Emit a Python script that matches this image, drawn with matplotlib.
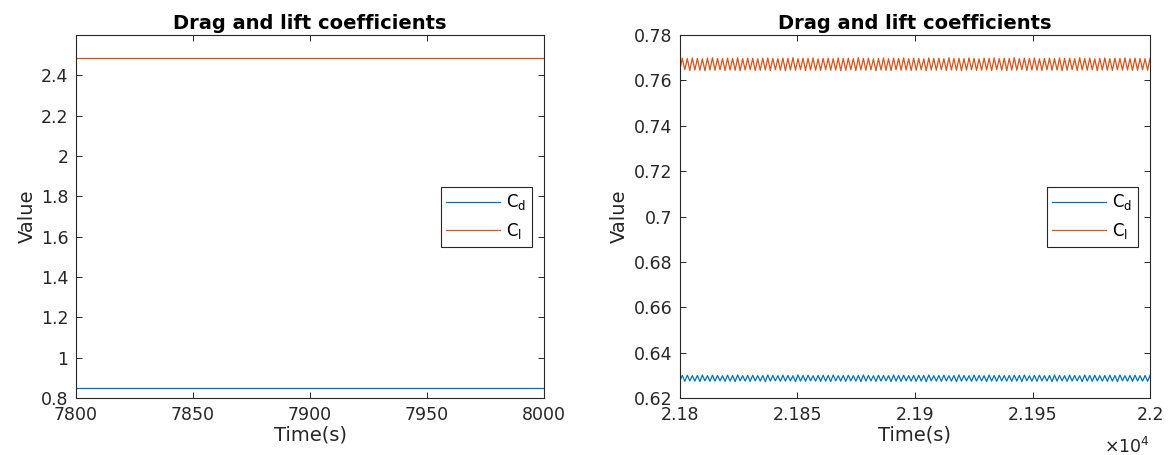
import numpy as np
import matplotlib.pyplot as plt
from matplotlib.ticker import FormatStrFormatter

# early window: both coefficients settled to constant values
t_early = [7800, 8000]
cd_early = [0.851, 0.851]
cl_early = [2.485, 2.485]

# late window: alternating troughs / peaks of the oscillating signals
t_late_start, t_late_end = 21800, 22000
cl_peak = [
    0.7698, 0.7696, 0.7699, 0.7697, 0.7695, 0.7698, 0.7700, 0.7697, 0.7696, 0.7698,
    0.7697, 0.7699, 0.7696, 0.7698, 0.7697, 0.7695, 0.7698, 0.7699, 0.7697, 0.7696,
    0.7698, 0.7697, 0.7700, 0.7696, 0.7698, 0.7697, 0.7699, 0.7695, 0.7697, 0.7698,
    0.7696, 0.7699, 0.7697, 0.7698, 0.7696, 0.7700, 0.7697, 0.7698, 0.7695, 0.7697,
    0.7699, 0.7696, 0.7698, 0.7697, 0.7699, 0.7696, 0.7698, 0.7697, 0.7695, 0.7699,
    0.7697, 0.7698, 0.7696, 0.7700, 0.7697, 0.7698, 0.7696, 0.7699, 0.7697, 0.7695,
    0.7698, 0.7697, 0.7699, 0.7696, 0.7698, 0.7697, 0.7700, 0.7696, 0.7698, 0.7697,
    0.7699, 0.7695, 0.7697, 0.7698, 0.7696, 0.7699, 0.7697, 0.7698, 0.7696, 0.7700,
    0.7697, 0.7698, 0.7695, 0.7697, 0.7699, 0.7696, 0.7698, 0.7697, 0.7699, 0.7696,
    0.7698, 0.7697, 0.7696, 0.7699,
]
cl_trough = [
    0.7645, 0.7647, 0.7644, 0.7646, 0.7645, 0.7643, 0.7646, 0.7645, 0.7647, 0.7644,
    0.7646, 0.7645, 0.7643, 0.7646, 0.7647, 0.7644, 0.7645, 0.7646, 0.7644, 0.7647,
    0.7645, 0.7643, 0.7646, 0.7645, 0.7647, 0.7644, 0.7646, 0.7645, 0.7644, 0.7647,
    0.7645, 0.7646, 0.7643, 0.7645, 0.7647, 0.7644, 0.7646, 0.7645, 0.7647, 0.7643,
    0.7646, 0.7645, 0.7644, 0.7647, 0.7645, 0.7646, 0.7644, 0.7645, 0.7647, 0.7643,
    0.7646, 0.7645, 0.7647, 0.7644, 0.7646, 0.7645, 0.7643, 0.7646, 0.7647, 0.7644,
    0.7645, 0.7646, 0.7644, 0.7647, 0.7645, 0.7643, 0.7646, 0.7645, 0.7647, 0.7644,
    0.7646, 0.7645, 0.7644, 0.7647, 0.7645, 0.7646, 0.7643, 0.7645, 0.7647, 0.7644,
    0.7646, 0.7645, 0.7647, 0.7643, 0.7646, 0.7645, 0.7644, 0.7647, 0.7645, 0.7646,
    0.7644, 0.7645, 0.7647, 0.7645,
]
cd_peak = [
    0.6300, 0.6301, 0.6299, 0.6300, 0.6302, 0.6299, 0.6301, 0.6300, 0.6299, 0.6301,
    0.6300, 0.6302, 0.6299, 0.6300, 0.6301, 0.6299, 0.6300, 0.6302, 0.6300, 0.6299,
    0.6301, 0.6300, 0.6299, 0.6302, 0.6300, 0.6301, 0.6299, 0.6300, 0.6301, 0.6300,
    0.6302, 0.6299, 0.6300, 0.6301, 0.6299, 0.6300, 0.6302, 0.6300, 0.6299, 0.6301,
    0.6300, 0.6299, 0.6302, 0.6300, 0.6301, 0.6299, 0.6300, 0.6301, 0.6300, 0.6302,
    0.6299, 0.6300, 0.6301, 0.6299, 0.6300, 0.6302, 0.6300, 0.6299, 0.6301, 0.6300,
    0.6299, 0.6302, 0.6300, 0.6301, 0.6299, 0.6300, 0.6301, 0.6300, 0.6302, 0.6299,
    0.6300, 0.6301, 0.6299, 0.6300, 0.6302, 0.6300, 0.6299, 0.6301, 0.6300, 0.6299,
    0.6302, 0.6300, 0.6301, 0.6299, 0.6300, 0.6301, 0.6300, 0.6302, 0.6299, 0.6300,
    0.6301, 0.6299, 0.6300, 0.6301,
]
cd_trough = [
    0.6275, 0.6274, 0.6276, 0.6275, 0.6273, 0.6276, 0.6274, 0.6275, 0.6276, 0.6274,
    0.6275, 0.6273, 0.6276, 0.6275, 0.6274, 0.6276, 0.6275, 0.6273, 0.6275, 0.6276,
    0.6274, 0.6275, 0.6276, 0.6273, 0.6275, 0.6274, 0.6276, 0.6275, 0.6274, 0.6275,
    0.6273, 0.6276, 0.6275, 0.6274, 0.6276, 0.6275, 0.6273, 0.6275, 0.6276, 0.6274,
    0.6275, 0.6276, 0.6273, 0.6275, 0.6274, 0.6276, 0.6275, 0.6274, 0.6275, 0.6273,
    0.6276, 0.6275, 0.6274, 0.6276, 0.6275, 0.6273, 0.6275, 0.6276, 0.6274, 0.6275,
    0.6276, 0.6273, 0.6275, 0.6274, 0.6276, 0.6275, 0.6274, 0.6275, 0.6273, 0.6276,
    0.6275, 0.6274, 0.6276, 0.6275, 0.6273, 0.6275, 0.6276, 0.6274, 0.6275, 0.6276,
    0.6273, 0.6275, 0.6274, 0.6276, 0.6275, 0.6274, 0.6275, 0.6273, 0.6276, 0.6275,
    0.6274, 0.6276, 0.6275, 0.6274,
]

x_ticks_late = [21800, 21850, 21900, 21950, 22000]
x_ticklabels_late = ["2.18", "2.185", "2.19", "2.195", "2.2"]

CD_COLOR = "#0072BD"
CL_COLOR = "#D95319"
AX_COLOR = "#262626"


def interleave(lo, hi):
    out = np.empty(len(lo) + len(hi))
    out[0::2] = lo
    out[1::2] = hi
    return out


def style_axes(ax):
    for s in ax.spines.values():
        s.set_color(AX_COLOR)
        s.set_linewidth(0.8)
    ax.tick_params(direction="in", top=True, right=True, length=4,
                   width=0.7, colors=AX_COLOR, labelsize=12.5)
    ax.tick_params(axis="x", pad=6)
    ax.tick_params(axis="y", pad=5.5)
    ax.set_title("Drag and lift coefficients", fontsize=14, fontweight="bold",
                 pad=4)
    ax.set_xlabel("Time(s)", fontsize=14, color=AX_COLOR, labelpad=1)
    ax.set_ylabel("Value", fontsize=14, color=AX_COLOR, labelpad=3)
    leg = ax.legend(loc="center right", fancybox=False, framealpha=1,
                    edgecolor=AX_COLOR, handlelength=3.2, fontsize=12,
                    borderpad=0.35, labelspacing=0.5, handletextpad=0.4,
                    borderaxespad=0.7)
    leg.get_frame().set_linewidth(0.8)


def main():
    plt.rcParams["font.family"] = "DejaVu Sans"
    plt.rcParams["mathtext.default"] = "regular"

    fig = plt.figure(figsize=(11.7, 4.55), dpi=100)
    ax1 = fig.add_axes([0.065, 0.125, 0.4, 0.798])
    ax2 = fig.add_axes([0.581, 0.125, 0.402, 0.798])

    # left panel
    ax1.plot(t_early, cd_early, color=CD_COLOR, lw=0.9, label="C$_d$")
    ax1.plot(t_early, cl_early, color=CL_COLOR, lw=0.9, label="C$_l$")
    ax1.set_xlim(7800, 8000)
    ax1.set_ylim(0.8, 2.6)
    ax1.set_xticks([7800, 7850, 7900, 7950, 8000])
    ax1.set_yticks(np.arange(0.8, 2.41, 0.2))
    ax1.yaxis.set_major_formatter(FormatStrFormatter("%g"))
    style_axes(ax1)

    # right panel
    cd_late = interleave(cd_trough, cd_peak)
    cl_late = interleave(cl_trough, cl_peak)
    t_late = np.linspace(t_late_start, t_late_end, len(cl_late))
    ax2.plot(t_late, cd_late, color=CD_COLOR, lw=0.9, label="C$_d$")
    ax2.plot(t_late, cl_late, color=CL_COLOR, lw=0.9, label="C$_l$")
    ax2.set_xlim(t_late_start, t_late_end)
    ax2.set_ylim(0.62, 0.78)
    ax2.set_xticks(x_ticks_late)
    ax2.set_xticklabels(x_ticklabels_late)
    ax2.set_yticks(np.arange(0.62, 0.781, 0.02))
    ax2.yaxis.set_major_formatter(FormatStrFormatter("%g"))
    style_axes(ax2)
    ax2.text(1.0, -0.135, r"$\times$10$^4$", transform=ax2.transAxes,
             ha="right", va="center", fontsize=12.5, color=AX_COLOR)

    fig.savefig("out.png", dpi=100)


if __name__ == "__main__":
    main()
